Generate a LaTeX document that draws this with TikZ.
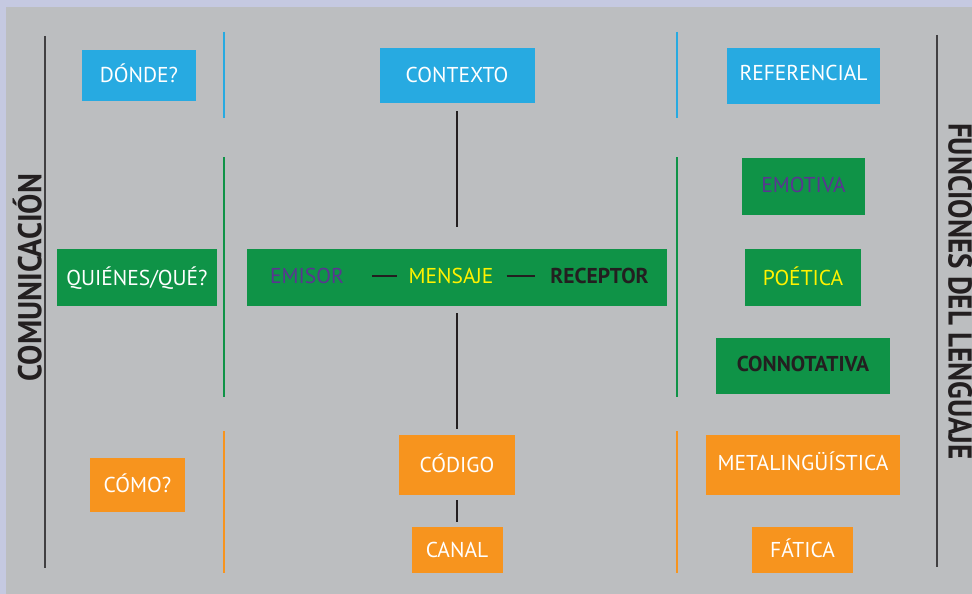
\documentclass[tikz,border=0pt]{standalone}
\usepackage{fontspec}
\setmainfont{PT Sans}
\definecolor{fondo}{HTML}{BCBEC0}
\definecolor{lavanda}{HTML}{C5C9E1}
\definecolor{azul}{HTML}{27AAE1}
\definecolor{verde}{HTML}{0F9347}
\definecolor{naranja}{HTML}{F7941E}
\definecolor{morado}{HTML}{5A3591}
\definecolor{amarillo}{HTML}{FFF200}
\definecolor{negro}{HTML}{231F20}
\definecolor{linea}{HTML}{414042}

\begin{document}
\begin{tikzpicture}[x=1pt,y=-1pt,
  box/.style={inner sep=0pt,text=white,font=\fontsize{21.5}{24}\selectfont,text height=15pt,text depth=0pt},
  bluebox/.style={box,fill=azul},
  greenbox/.style={box,fill=verde},
  orangebox/.style={box,fill=naranja},
  sep/.style={line width=2.7pt},
  outer/.style={draw=linea,line width=2pt},
  link/.style={draw=negro,line width=2.7pt},
  dashline/.style={draw=negro,line width=2.2pt},
  side/.style={inner sep=0pt,text=negro,font=\fontsize{33}{36}\selectfont\bfseries,text height=23pt,text depth=0pt}]
\fill[lavanda] (0,0) rectangle (972,594);
\fill[fondo] (6,7) rectangle (972,594);
\useasboundingbox (0,0) rectangle (972,594);
% side lines and titles
\draw[outer] (45,36) -- (45,568);
\draw[outer] (937,35) -- (937,567);
\node[side,rotate=90] (comunicacion) at (30,277.5) {\scalebox{0.92}[1]{COMUNICACIÓN}};
\node[side,rotate=-90] (funciones) at (960,291.5) {\scalebox{0.88}[1]{FUNCIONES DEL LENGUAJE}};
% column separators
\foreach \x in {224,677} {
  \draw[sep,azul] (\x,32) -- (\x,118);
  \draw[sep,verde] (\x,157) -- (\x,397);
  \draw[sep,naranja] (\x,431) -- (\x,573);
}
% left column
\node[bluebox,minimum width=114pt,minimum height=51pt] (donde) at (139,75.5) {DÓNDE?};
\node[greenbox,minimum width=160pt,minimum height=57pt] (quienes) at (137,277.5) {QUIÉNES/QUÉ?};
\node[orangebox,minimum width=95pt,minimum height=54pt] (como) at (137.5,485) {CÓMO?};
% middle column
\node[bluebox,minimum width=155pt,minimum height=55pt] (contexto) at (457,75.5) {CONTEXTO};
\node[greenbox,minimum width=420pt,minimum height=57pt] (mensaje) at (457,277.5) {};
\node[box,text=morado] (emisor) at (307,276) {EMISOR};
\node[box,text=amarillo] (mensajetxt) at (451,276) {MENSAJE};
\node[box,text=negro,font=\fontsize{21.5}{24}\selectfont\bfseries] (receptor) at (599.5,276) {RECEPTOR};
\node[orangebox,minimum width=116pt,minimum height=60pt] (codigo) at (457,465) {CÓDIGO};
\node[orangebox,minimum width=91pt,minimum height=46pt] (canal) at (457,550) {CANAL};
\path [dashline] (emisor) edge[shorten <=28pt,shorten >=11pt] (mensajetxt);
\path [dashline] (mensajetxt) edge[shorten <=13pt,shorten >=15pt] (receptor);
\path [link] (contexto) edge[shorten <=8pt,shorten >=22pt] (mensaje);
\path [link] (mensaje) edge[shorten <=7pt,shorten >=6pt] (codigo);
\path [link] (codigo) edge[shorten <=5pt,shorten >=5pt] (canal);
% right column
\node[bluebox,minimum width=153pt,minimum height=56pt] (referencial) at (803.5,76) {\raisebox{3pt}{REFERENCIAL}};
\node[greenbox,text=morado,minimum width=123pt,minimum height=57pt] (emotiva) at (803.5,186.5) {\raisebox{2pt}{EMOTIVA}};
\node[greenbox,text=amarillo,minimum width=116pt,minimum height=57pt] (poetica) at (803,277.5) {POÉTICA};
\node[greenbox,text=negro,font=\fontsize{21.5}{24}\selectfont\bfseries,minimum width=174pt,minimum height=56pt] (connotativa) at (803,366) {\raisebox{2pt}{CONNOTATIVA}};
\node[orangebox,minimum width=194pt,minimum height=60pt] (metalinguistica) at (803,465) {\raisebox{2pt}{METALINGÜÍSTICA}};
\node[orangebox,minimum width=101pt,minimum height=46pt] (fatica) at (802.5,550) {FÁTICA};
\end{tikzpicture}
\end{document}
